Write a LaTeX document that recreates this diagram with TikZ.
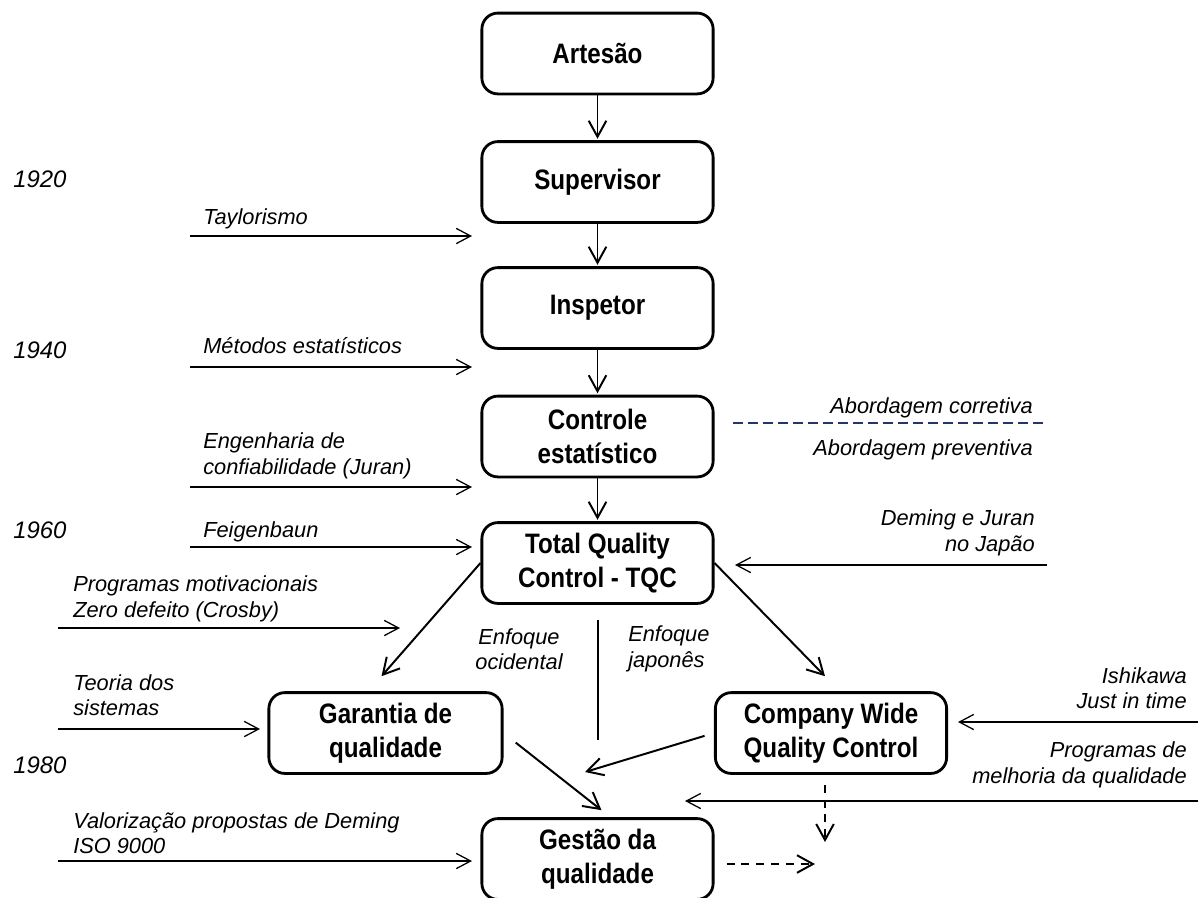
\documentclass[tikz,border=0pt]{standalone}
\usepackage{fontspec}
\setmainfont{Liberation Sans}
\newfontfamily\boxfont{Liberation Sans}[FakeStretch=0.86]
\usepackage{tikz}
\usetikzlibrary{arrows.meta,calc,positioning}
\definecolor{divisa}{RGB}{31,56,100}

\begin{document}
\begin{tikzpicture}[x=0.025cm,y=-0.025cm,
        etapa/.style={draw,line width=2pt,rounded corners=4mm,minimum width=5.78cm,minimum height=2.02cm,align=center,inner sep=2pt,font=\boxfont\bfseries\fontsize{20}{24}\selectfont},
        rotulo/.style={inner sep=0pt,font=\itshape\fontsize{15.5}{18}\selectfont},
        ano/.style={inner sep=0pt,font=\itshape\fontsize{17}{20}\selectfont},
        fluxo/.style={-{Straight Barb[length=4mm,width=4.4mm]},line width=1.4pt},
        entrada/.style={-{Straight Barb[length=3.6mm,width=3.8mm]},line width=0.9pt},
        tracejado/.style={fluxo,dash pattern=on 2mm off 1.7mm}]
        \useasboundingbox (0,0) rectangle (1200,897);

        % etapas
        \node[etapa] (artesao) at (597.5,53.5) {Artesão};
        \node[etapa] (supervisor) at (597.5,182) {Supervisor};
        \node[etapa] (inspetor) at (597.5,308) {Inspetor};
        \node[etapa] (controle) at (597.5,436.5) {Controle\\estatístico};
        \node[etapa] (tqc) at (597.5,563) {Total Quality\\Control - TQC};
        \node[etapa,minimum width=5.83cm] (garantia) at (385.5,733) {Garantia de\\qualidade};
        \node[etapa] (cwqc) at (831,733) {Company Wide\\Quality Control};
        \node[etapa] (gestao) at (597.5,859) {Gestão da\\qualidade};

        % anos
        \node[ano,anchor=base west] (a1920) at (13,187) {1920};
        \node[ano,anchor=base west] (a1940) at (13,358) {1940};
        \node[ano,anchor=base west] (a1960) at (13,538) {1960};
        \node[ano,anchor=base west] (a1980) at (13,773) {1980};

        % influencias
        \node[rotulo,anchor=base west] (taylor) at (203,224) {Taylorismo};
        \node[rotulo,anchor=base west] (metodos) at (203,353) {Métodos estatísticos};
        \node[rotulo,anchor=west,align=left] (engenharia) at (203,456) {Engenharia de\\confiabilidade (Juran)};
        \node[rotulo,anchor=base west] (feigen) at (203,537) {Feigenbaun};
        \node[rotulo,anchor=west,align=left] (motiv) at (73,599) {Programas motivacionais\\Zero defeito (Crosby)};
        \node[rotulo,anchor=west,align=left] (teoria) at (73,695) {Teoria dos\\sistemas};
        \node[rotulo,anchor=west,align=left] (valoriz) at (73,833) {Valorização propostas de Deming\\ISO 9000};
        \node[rotulo,anchor=base east] (corretiva) at (1033,413) {Abordagem corretiva};
        \node[rotulo,anchor=base east] (preventiva) at (1033,455) {Abordagem preventiva};
        \node[rotulo,anchor=east,align=right] (deming) at (1035,533) {Deming e Juran\\no Japão};
        \node[rotulo,anchor=east,align=right] (ishikawa) at (1187,688) {Ishikawa\\Just in time};
        \node[rotulo,anchor=east,align=right] (melhoria) at (1187,765) {Programas de\\melhoria da qualidade};
        \node[rotulo,align=center] (ocidental) at (519,649) {Enfoque\\ocidental};
        \node[rotulo,anchor=west,align=left] (japones) at (628,649) {Enfoque\\japonês};

        % extremos livres
        \coordinate (taylorA) at (190,236);   \coordinate (taylorB) at (472,236);
        \coordinate (metodosA) at (190,367);  \coordinate (metodosB) at (472,367);
        \coordinate (engA) at (190,487);      \coordinate (engB) at (472,487);
        \coordinate (feigenA) at (190,547);   \coordinate (feigenB) at (472,547);
        \coordinate (motivA) at (58,628);     \coordinate (motivB) at (400,628);
        \coordinate (teoriaA) at (58,729);    \coordinate (teoriaB) at (260,729);
        \coordinate (valorA) at (58,861);     \coordinate (valorB) at (472,861);
        \coordinate (demingA) at (1047,565);  \coordinate (demingB) at (735,565);
        \coordinate (ishiA) at (1198,722);    \coordinate (ishiB) at (958,722);
        \coordinate (melhorA) at (1198,801);  \coordinate (melhorB) at (685,801);
        \coordinate (divA) at (733,423);      \coordinate (divB) at (1043,423);
        \coordinate (enfA) at (598,620);      \coordinate (enfB) at (598,740);
        \coordinate (juncao) at (585,772);
        \coordinate (saidaV) at (825,842);    \coordinate (saidaH) at (815,864);

        \path[every edge/.append style={fluxo,shorten >=1pt}]
            (artesao)edge(supervisor)
            (supervisor)edge(inspetor)
            (inspetor)edge(controle)
            (controle)edge(tqc);
        \draw[fluxo] (tqc.west) -- ($(garantia.north)+(-4,-15)$);
        \draw[fluxo] (tqc.east) -- ($(cwqc.north)+(-6,-15)$);
        \draw[fluxo,shorten <=11pt] (garantia.east) -- ($(gestao.north)+(4,-7)$);
        \draw[fluxo,shorten <=7pt] (cwqc.west) -- (juncao);
        \draw[tracejado] ($(cwqc.south)+(-6,10)$) -- (saidaV);
        \draw[tracejado] ($(gestao.east)+(12,5)$) -- (saidaH);

        \path[every edge/.append style={entrada}]
            (taylorA)edge(taylorB)
            (metodosA)edge(metodosB)
            (engA)edge(engB)
            (feigenA)edge(feigenB)
            (motivA)edge(motivB)
            (teoriaA)edge(teoriaB)
            (valorA)edge(valorB)
            (demingA)edge(demingB)
            (ishiA)edge(ishiB)
            (melhorA)edge(melhorB);
        \draw[line width=0.9pt] (enfA) -- (enfB);
        \draw[divisa,line width=1.2pt,dash pattern=on 2.5mm off 1.25mm] (divA) -- (divB);
\end{tikzpicture}
\end{document}
